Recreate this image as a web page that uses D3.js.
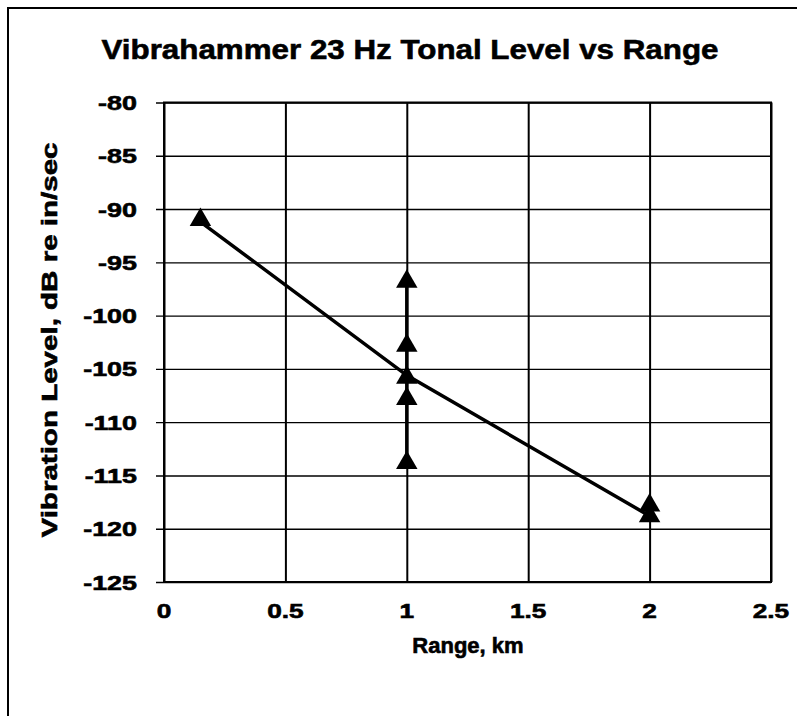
<!DOCTYPE html>
<html>
<head>
<meta charset="utf-8">
<script src="https://cdn.jsdelivr.net/npm/d3@7"></script>
<style>
  html, body { margin: 0; padding: 0; background: #fff; }
  svg text { font-family: "Liberation Sans", Arial, sans-serif; font-weight: bold; fill: #000;
             stroke: #000; stroke-width: 0.6px; }
</style>
</head>
<body>
<svg id="chart" width="801" height="716"></svg>
<script>
// Range (km) of each measurement and the measured 23 Hz tonal level (dB re in/sec)
const measuredRange = [0.15, 1, 1, 1, 1, 1, 2, 2];
const measuredLevel = [-91.2, -97, -103, -106, -108, -114, -118, -119];

// Mean level at each range, joined by the trend line
const meanRange = [0.15, 1, 2];
const meanLevel = [-91.2, -105.6, -118.8];

// Spread of the readings taken at 1 km
const spreadRange = [1, 1];
const spreadLevel = [-97, -114];

const xTicks = [0, 0.5, 1, 1.5, 2, 2.5];
const yTicks = [-80, -85, -90, -95, -100, -105, -110, -115, -120, -125];

const titleText = "Vibrahammer 23 Hz Tonal Level vs Range";
const xTitle = "Range, km";
const yTitle = "Vibration Level, dB re in/sec";

const svg = d3.select("#chart");
const plot = { left: 164, right: 771, top: 102.5, bottom: 582 };

const x = d3.scaleLinear().domain([0, 2.5]).range([plot.left, plot.right]);
const y = d3.scaleLinear().domain([-125, -80]).range([plot.bottom, plot.top]);

// widen a text element horizontally by factor k
function widen(sel, k) {
  sel.each(function () {
    const w = this.getComputedTextLength();
    d3.select(this).attr("textLength", w * k).attr("lengthAdjust", "spacingAndGlyphs");
  });
}

// outer frame (top and left edges)
svg.append("path")
  .attr("d", "M8,716 L8,8 L797,8")
  .attr("fill", "none").attr("stroke", "#000").attr("stroke-width", 2);

// title
svg.append("text")
  .attr("x", 410).attr("y", 59)
  .attr("text-anchor", "middle")
  .attr("font-size", 28)
  .attr("textLength", 617).attr("lengthAdjust", "spacingAndGlyphs")
  .text(titleText);

// horizontal grid lines with tick stubs on the left
const yAxis = d3.axisLeft(y).tickValues(yTicks).tickSize(plot.right - plot.left + 8).tickFormat("");
const gy = svg.append("g")
  .attr("transform", `translate(${plot.right},0)`)
  .call(yAxis);
gy.select(".domain").remove();
gy.selectAll(".tick line").attr("stroke", "#000").attr("stroke-width", 1.4);

// vertical grid lines
const xAxis = d3.axisBottom(x).tickValues(xTicks).tickSize(-(plot.bottom - plot.top)).tickFormat("");
const gx = svg.append("g")
  .attr("transform", `translate(0,${plot.bottom})`)
  .call(xAxis);
gx.select(".domain").remove();
gx.selectAll(".tick line").attr("stroke", "#000").attr("stroke-width", 2);

// plot border
svg.append("rect")
  .attr("x", plot.left).attr("y", plot.top)
  .attr("width", plot.right - plot.left).attr("height", plot.bottom - plot.top)
  .attr("fill", "none").attr("stroke", "#000").attr("stroke-width", 2);

// y tick labels
svg.append("g").selectAll("text")
  .data(yTicks).join("text")
  .attr("x", 137).attr("y", d => y(d))
  .attr("dy", "0.36em")
  .attr("text-anchor", "end")
  .attr("font-size", 21)
  .text(d => d)
  .call(widen, 1.28);

// x tick labels
svg.append("g").selectAll("text")
  .data(xTicks).join("text")
  .attr("x", d => x(d)).attr("y", 618)
  .attr("text-anchor", "middle")
  .attr("font-size", 21)
  .text(d => d)
  .call(widen, 1.25);

// axis titles
svg.append("text")
  .attr("x", 468).attr("y", 653)
  .attr("text-anchor", "middle")
  .attr("font-size", 22)
  .text(xTitle);

svg.append("text")
  .attr("transform", "translate(57,340) rotate(-90)")
  .attr("text-anchor", "middle")
  .attr("font-size", 22)
  .attr("textLength", 395).attr("lengthAdjust", "spacingAndGlyphs")
  .text(yTitle);

// data lines
const line = d3.line().x(d => x(d[0])).y(d => y(d[1]));
svg.append("path")
  .datum(d3.zip(spreadRange, spreadLevel))
  .attr("d", line)
  .attr("fill", "none").attr("stroke", "#000").attr("stroke-width", 3.5);

svg.append("path")
  .datum(d3.zip(meanRange, meanLevel))
  .attr("d", line)
  .attr("fill", "none").attr("stroke", "#000").attr("stroke-width", 3.5);

// triangle markers
const tri = d3.symbol().type(d3.symbolTriangle).size(200);
svg.append("g").selectAll("path")
  .data(d3.zip(measuredRange, measuredLevel)).join("path")
  .attr("transform", d => `translate(${x(d[0])},${y(d[1]) - 2})`)
  .attr("d", tri)
  .attr("fill", "#000");
</script>
</body>
</html>
